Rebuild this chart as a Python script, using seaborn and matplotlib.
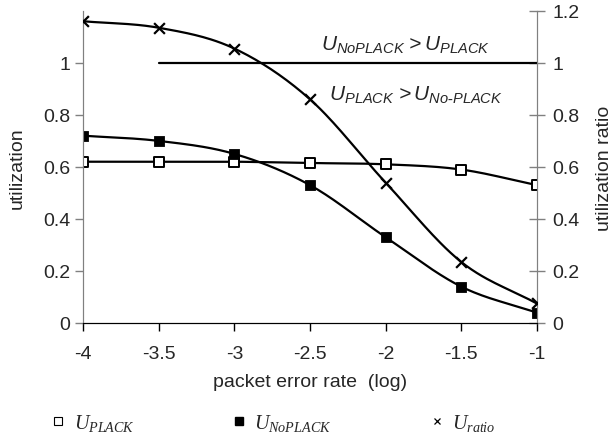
import numpy as np
import pandas as pd
import matplotlib
matplotlib.use('Agg')
import matplotlib.pyplot as plt
from matplotlib.lines import Line2D
import seaborn as sns

# data
per_log = [-4, -3.5, -3, -2.5, -2, -1.5, -1]
u_plack = [0.62, 0.62, 0.62, 0.615, 0.61, 0.59, 0.53]
u_noplack = [0.72, 0.70, 0.65, 0.53, 0.33, 0.14, 0.04]
u_ratio = [1.16, 1.135, 1.055, 0.86, 0.54, 0.235, 0.075]
ratio_line = [1, 1]
ratio_line_x = [-3.5, -1]

sns.set_style('ticks')
plt.rcParams['font.family'] = ['Liberation Sans', 'DejaVu Sans']
plt.rcParams['mathtext.fontset'] = 'custom'
plt.rcParams['mathtext.it'] = 'Liberation Serif:italic'
plt.rcParams['mathtext.rm'] = 'Liberation Serif'
plt.rcParams['mathtext.sf'] = 'Liberation Sans:italic'


def smooth(x, y, n=30):
    # catmull-rom curve through the points (like excel's smoothed line)
    x = np.asarray(x, float)
    y = np.asarray(y, float)
    px = np.concatenate([[2 * x[0] - x[1]], x, [2 * x[-1] - x[-2]]])
    py = np.concatenate([[2 * y[0] - y[1]], y, [2 * y[-1] - y[-2]]])
    xs, ys = [], []
    t = np.linspace(0, 1, n)
    for i in range(1, len(px) - 2):
        for p, out in ((px, xs), (py, ys)):
            p0, p1, p2, p3 = p[i - 1], p[i], p[i + 1], p[i + 2]
            out.extend(0.5 * (2 * p1 + (-p0 + p2) * t
                              + (2 * p0 - 5 * p1 + 4 * p2 - p3) * t ** 2
                              + (-p0 + 3 * p1 - 3 * p2 + p3) * t ** 3))
    return xs, ys


df = pd.DataFrame({'per': per_log, 'plack': u_plack,
                   'noplack': u_noplack, 'ratio': u_ratio})

fig = plt.figure(figsize=(6.12, 4.39), dpi=100)
ax = fig.add_axes([0.136, 0.262, 0.741, 0.711])
ax2 = ax.twinx()

for col in ['plack', 'noplack']:
    sx, sy = smooth(df['per'], df[col])
    sns.lineplot(x=sx, y=sy, ax=ax, color='black', linewidth=1.6, sort=False)
sx, sy = smooth(df['per'], df['ratio'])
sns.lineplot(x=sx, y=sy, ax=ax2, color='black', linewidth=1.6, sort=False)
sns.lineplot(x=ratio_line_x, y=ratio_line, ax=ax2, color='black', linewidth=1.6)

sns.scatterplot(data=df, x='per', y='plack', ax=ax, marker='s', s=55,
                facecolor='white', edgecolor='black', linewidth=1.4, zorder=5)
sns.scatterplot(data=df, x='per', y='noplack', ax=ax, marker='s', s=55,
                color='black', edgecolor='black', zorder=5)
sns.scatterplot(data=df, x='per', y='ratio', ax=ax2, marker='x', s=60,
                color='black', linewidth=1.6, zorder=5)

ax.set_xlim(-4, -1)
ax.set_ylim(0, 1.2)
ax2.set_ylim(0, 1.2)
ax.set_xticks([-4, -3.5, -3, -2.5, -2, -1.5, -1])
ax.set_xticklabels(['-4', '-3.5', '-3', '-2.5', '-2', '-1.5', '-1'])
ax.set_yticks([0, 0.2, 0.4, 0.6, 0.8, 1])
ax.set_yticklabels(['0', '0.2', '0.4', '0.6', '0.8', '1'])
ax2.set_yticks([0, 0.2, 0.4, 0.6, 0.8, 1, 1.2])
ax2.set_yticklabels(['0', '0.2', '0.4', '0.6', '0.8', '1', '1.2'])

for a in (ax, ax2):
    a.spines['top'].set_visible(False)
    a.spines['left'].set_color('#808080')
    a.spines['right'].set_color('#808080')
    a.spines['bottom'].set_color('black')
    a.set_xlabel('')
ax.tick_params(axis='both', labelsize=14, length=6, width=1, color='#808080')
ax.tick_params(axis='x', color='black', pad=10)
ax2.tick_params(axis='y', labelsize=14, length=12, width=1, color='#808080',
                direction='inout', pad=5)

ax.set_ylabel('utilization', fontsize=14, labelpad=12)
ax2.set_ylabel('utilization ratio', fontsize=14, labelpad=12)
ax.set_xlabel('packet error rate  (log)', fontsize=14, labelpad=8)

ax2.text(-1.87, 1.07, r'$\mathsf{U_{NoPLACK}\,>U_{PLACK}}$', fontsize=15,
         ha='center', va='center')
ax2.text(-1.80, 0.88, r'$\mathsf{U_{PLACK}\,>U_{No\text{-}PLACK}}$', fontsize=15,
         ha='center', va='center')

handles = [
    Line2D([], [], linestyle='none', marker='s', markersize=6,
           markerfacecolor='white', markeredgecolor='black', markeredgewidth=0.8),
    Line2D([], [], linestyle='none', marker='s', markersize=6,
           markerfacecolor='black', markeredgecolor='black'),
    Line2D([], [], linestyle='none', marker='x', markersize=5,
           color='black', markeredgewidth=0.9),
]
labels = [r'$U_{PLACK}$', r'$U_{NoPLACK}$', r'$U_{ratio}$']
fig.legend(handles, labels, loc='center left', bbox_to_anchor=(0.056, 0.035),
           ncol=3, frameon=False, fontsize=14.5, handlelength=0.6,
           handletextpad=0.45, columnspacing=4.9)

fig.savefig('out.png', dpi=100)
